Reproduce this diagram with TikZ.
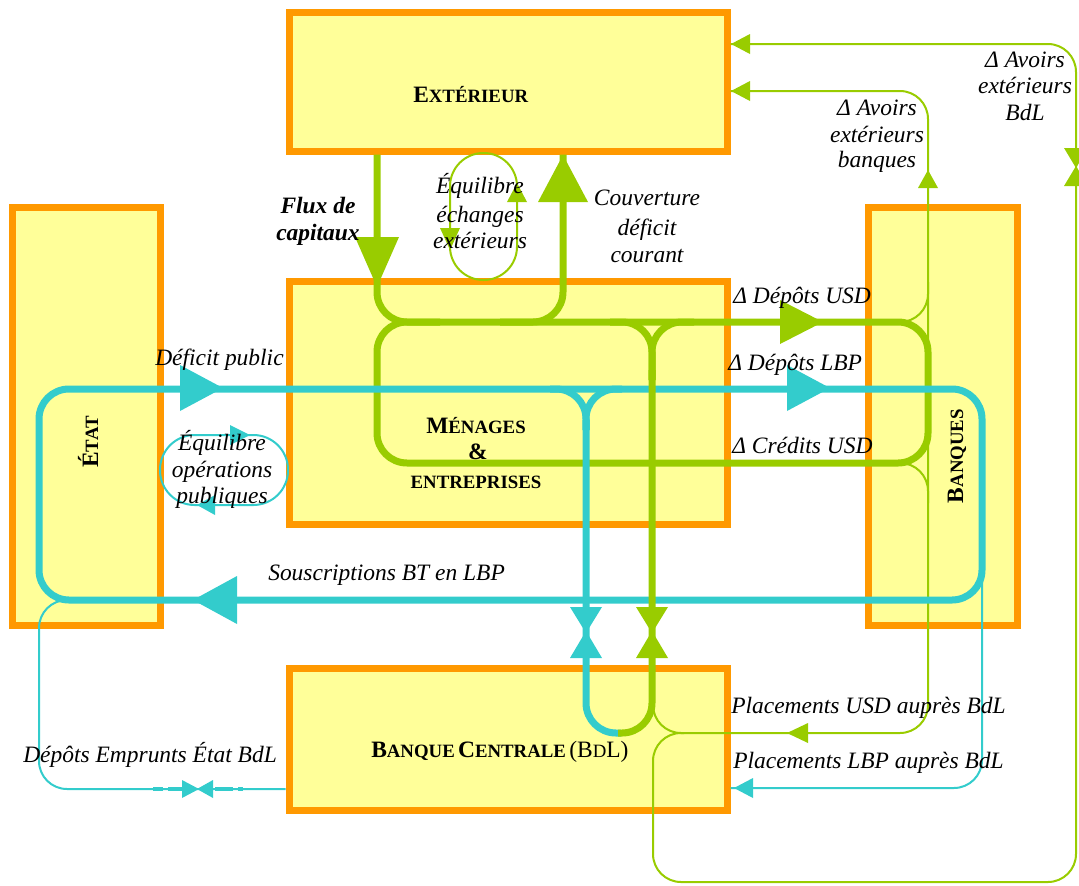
\documentclass[tikz,border=0pt]{standalone}
\usepackage{fontspec}
\setmainfont{Liberation Serif}
\usetikzlibrary{fit}
\definecolor{vert}{HTML}{99CC00}
\definecolor{cyanc}{HTML}{33CCCC}
\definecolor{orangec}{HTML}{FF9900}
\definecolor{jaune}{HTML}{FFFF99}
% arrow heads: tip x, tip y, length, half width, colour
\newcommand\tipR[5]{\fill[#5] (#1,#2) -- ++(-#3,-#4) -- ++(0,{2*#4}) -- cycle;}
\newcommand\tipL[5]{\fill[#5] (#1,#2) -- ++(#3,-#4) -- ++(0,{2*#4}) -- cycle;}
\newcommand\tipD[5]{\fill[#5] (#1,#2) -- ++(-#4,-#3) -- ++({2*#4},0) -- cycle;}
\newcommand\tipU[5]{\fill[#5] (#1,#2) -- ++(-#4,#3) -- ++({2*#4},0) -- cycle;}
\newcommand\BIG[1]{{\fontsize{17.6}{20}\selectfont #1}}
\newcommand\SML[1]{{\fontsize{14.1}{16}\selectfont #1}}
\begin{document}
\begin{tikzpicture}[x=0.75pt,y=-0.75pt,
  box/.style={draw=orangec, fill=jaune, line width=5.25pt, inner sep=0pt},
  gthick/.style={draw=vert, line width=5.25pt, rounded corners=22.5pt},
  cthick/.style={draw=cyanc, line width=5.25pt, rounded corners=22.5pt},
  gthin/.style={draw=vert, line width=1.5pt, rounded corners=21pt},
  cthin/.style={draw=cyanc, line width=1.5pt, rounded corners=21pt},
  lab/.style={font=\fontsize{17.6}{20}\selectfont\itshape, inner sep=0pt, anchor=base},
  labw/.style={lab, anchor=base west},
  ttl/.style={font=\bfseries, inner sep=0pt, anchor=base}]
\useasboundingbox (0,0) rectangle (1079,886);

% boxes
\node[box, fit={(289,12) (727,151)}] (ext) {};
\node[box, fit={(289,281) (727,524)}] (men) {};
\node[box, fit={(12,207) (160,625)}] (etat) {};
\node[box, fit={(868,207) (1017,625)}] (bq) {};
\node[box, fit={(289,668) (727,810)}] (bdl) {};

% thin green flows
\draw[gthin] (ext.east |- 0,91) -- (928,91) -- (928,733) -- (653,733) -- (653,700);
\draw[gthin] (684,733) -- (653,733) -- (653,882) -- (1076,882) -- (1076,44) -- (ext.east |- 0,44);
\draw[gthin] (890,322) -- (928,322) -- (928,282);
\draw[gthin] (890,463) -- (928,463) -- (928,503);

% thin cyan flows
\draw[cthin] (75,600) -- (39,600) -- (39,789) -- (bdl.west |- 0,789);
\draw[cyanc, line width=2.4pt] (153,789) -- (163,789) (168,789) -- (182,789) (215,789) -- (233,789) (238,789) -- (243,789);
\draw[cthin] (982,570) -- (982,788) -- (bdl.east |- 0,788);

% thick green flows
\draw[gthick] (377,322) rectangle (928,463);
\draw[gthick] (ext.south -| 377,0) -- (377,322) -- (440,322);
\draw[gthick] (500,322) -- (563,322) -- (ext.south -| 563,0);

% thick cyan flows
\draw[cthick] (39,389) rectangle (982,600);
\draw[cthick] (550,389) -- (586,389) -- (586,430);
\draw[cthick] (622,389) -- (586,389) -- (586,430);
\draw[cthick] (586,420) -- (586,733) -- (621,733);

% green vertical to BdL
\draw[gthick] (610,322) -- (652,322) -- (652,380);
\draw[gthick] (694,322) -- (652,322) -- (652,380);
\draw[gthick] (652,370) -- (652,733) -- (618,733);

% small loops
\draw[vert, line width=1.5pt, rounded corners=25pt] (450,153) rectangle (517,280);
\draw[cyanc, line width=1.5pt, rounded corners=26pt] (160,435) rectangle (288,505);

% arrow heads
\tipD{377}{287}{50}{22}{vert}
\tipU{563}{155}{47}{25}{vert}
\tipR{823}{322}{43}{22}{vert}
\tipR{223}{388}{43}{23}{cyanc}
\tipR{830}{388}{43}{23}{cyanc}
\tipL{193}{600}{44}{24}{cyanc}
\tipD{450}{250}{22}{10}{vert}
\tipU{517}{183}{19}{10}{vert}
\tipR{250}{435}{20}{10}{cyanc}
\tipL{197}{505}{18}{10}{cyanc}
\tipD{586}{633}{26}{16}{cyanc}
\tipU{586}{631}{27}{16}{cyanc}
\tipD{652}{633}{26}{16}{vert}
\tipU{652}{631}{27}{16}{vert}
\tipR{199}{789}{17}{9}{cyanc}
\tipL{197}{789}{16}{9}{cyanc}
\tipU{928}{170}{18}{10}{vert}
\tipL{731}{91}{19}{10}{vert}
\tipL{731}{44}{19}{10}{vert}
\tipD{1076}{168}{20}{12}{vert}
\tipU{1076}{166}{20}{12}{vert}
\tipL{787}{733}{21}{10}{vert}
\tipL{734}{788}{19}{10}{cyanc}

% box titles
\node[ttl, anchor=base west] (text) at (413,102) {\BIG{E}\SML{XTÉRIEUR}};
\node[ttl] (tmen1) at (476,433) {\BIG{M}\SML{ÉNAGES}};
\node[ttl] (tmen2) at (478,459) {\BIG{\&}};
\node[ttl] (tmen3) at (476,488) {\SML{ENTREPRISES}};
\node[ttl, anchor=base west] (tbdl) at (371,757) {\BIG{B}\SML{ANQUE} \BIG{C}\SML{ENTRALE} \mdseries\BIG{(B}\SML{D}\BIG{L)}};
\node[ttl, anchor=center, rotate=90] (tetat) at (88,442) {\BIG{É}\SML{TAT}};
\node[ttl, anchor=center, rotate=90] (tbq) at (957,456) {\BIG{B}\SML{ANQUES}};

% flow labels
\node[lab, font=\fontsize{17.6}{20}\selectfont\bfseries\itshape] (fl1) at (318,213) {Flux de};
\node[lab, font=\fontsize{17.6}{20}\selectfont\bfseries\itshape] (fl2) at (318,240) {capitaux};
\node[lab] (ee1) at (480,193) {Équilibre};
\node[lab] (ee2) at (480,222) {échanges};
\node[lab] (ee3) at (480,248) {extérieurs};
\node[lab] (cd1) at (647,205) {Couverture};
\node[lab] (cd2) at (647,235) {déficit};
\node[lab] (cd3) at (647,262) {courant};
\node[lab] (ab1) at (877,115) {Δ Avoirs};
\node[lab] (ab2) at (877,142) {extérieurs};
\node[lab] (ab3) at (877,167) {banques};
\node[lab] (ad1) at (1025,67) {Δ Avoirs};
\node[lab] (ad2) at (1025,93) {extérieurs};
\node[lab] (ad3) at (1025,120) {BdL};
\node[lab] (op1) at (222,450) {Équilibre};
\node[lab] (op2) at (222,477) {opérations};
\node[lab] (op3) at (222,503) {publiques};
\node[labw] (dusd) at (733,303) {Δ Dépôts USD};
\node[labw] (dlbp) at (728,370) {Δ Dépôts LBP};
\node[labw] (cusd) at (732,453) {Δ Crédits USD};
\node[labw] (dp) at (155,365) {Déficit public};
\node[labw] (sbt) at (268,580) {Souscriptions BT en LBP};
\node[labw] (pusd) at (731,713) {Placements USD auprès BdL};
\node[labw] (plbp) at (733,768) {Placements LBP auprès BdL};
\node[labw] (dee) at (23,762) {Dépôts Emprunts État BdL};
\end{tikzpicture}
\end{document}
